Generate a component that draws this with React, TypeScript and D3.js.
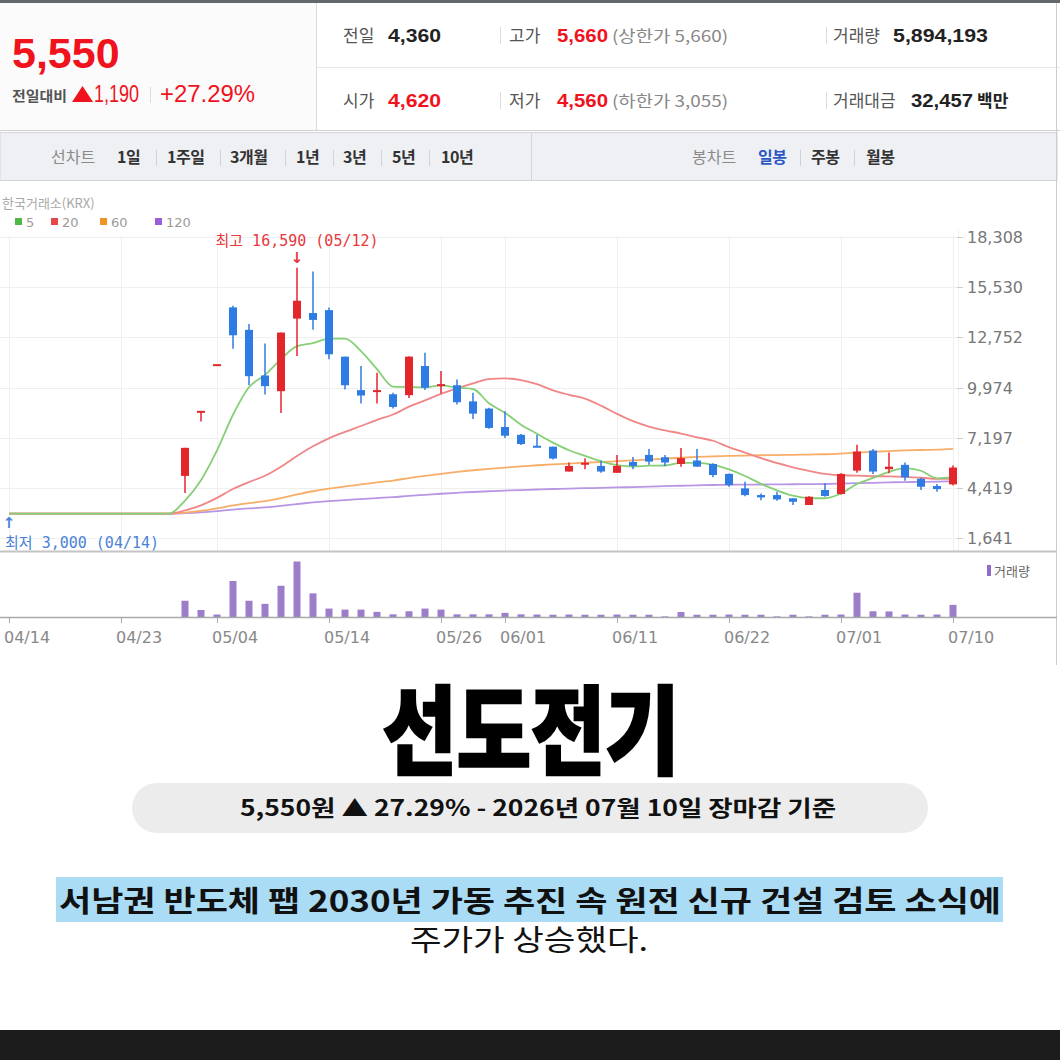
import React from 'react';
import * as d3 from 'd3';

const dates = ['04/14','04/15','04/16','04/17','04/20','04/21','04/22','04/23','04/24','04/27','04/28','04/29','04/30','05/04','05/06','05/07','05/08','05/11','05/12','05/13','05/14','05/15','05/18','05/19','05/20','05/21','05/22','05/26','05/27','05/28','05/29','06/01','06/02','06/04','06/05','06/08','06/09','06/10','06/11','06/12','06/15','06/16','06/17','06/18','06/19','06/22','06/23','06/24','06/25','06/26','06/29','06/30','07/01','07/02','07/03','07/06','07/07','07/08','07/09','07/10'];
const tickDates = ['04/14','04/23','05/04','05/14','05/26','06/01','06/11','06/22','07/01','07/10'];
const basePrice = 3000;
const opens = [3000,3000,3000,3000,3000,3000,3000,3000,3000,3000,3000,5090,8630,11210,14400,13160,10640,9770,13780,14090,14250,11680,9830,9750,9600,9550,11160,10080,10100,9210,8810,7790,7360,6720,6700,5330,5740,5640,5260,5860,6250,6120,5750,5940,5750,5200,4400,4030,4030,3850,3480,4310,4090,5380,6490,5460,5700,4930,4530,4620];
const highs = [3000,3000,3000,3000,3000,3000,3000,3000,3000,3000,3000,6640,8630,11210,14490,13480,12400,13010,16590,16380,14400,11680,11160,10790,9680,11700,11900,10880,10420,9680,8850,8660,7400,7360,6720,5830,6070,5940,6250,6130,6570,6250,6630,6570,5790,5220,4770,4120,4220,3850,3960,4680,5230,6810,6570,6380,5830,4990,4640,5660];
const lows = [3000,3000,3000,3000,3000,3000,3000,3000,3000,3000,3000,4140,8100,11210,12120,10100,9590,8570,11710,13160,11530,9860,9090,9090,8820,9400,9830,9640,9030,8240,7700,7180,6800,6680,6000,5330,5460,5260,5260,5460,5700,5640,5590,5590,5010,4490,3970,3750,3710,3480,3480,3940,4060,5270,5200,5240,4820,4310,4220,4560];
const closes = [3000,3000,3000,3000,3000,3000,3000,3000,3000,3000,3000,6640,8630,11210,12860,10600,10050,13010,14770,13710,11810,10100,9530,9800,8900,11680,9960,10130,9160,8530,7740,7310,6850,6680,6050,5640,5780,5330,5640,5640,5880,5830,6070,5600,5140,4590,4030,3900,3790,3660,3940,3980,5200,6440,5330,5600,5010,4490,4360,5550];
// volume in millions of shares
const volumes = [0,0,0,0,0,0,0,0,0,0,0,7.9,3.4,1.2,17.5,7.9,6.4,15.2,27.0,11.5,4.1,3.6,3.6,2.5,1.3,2.8,4.1,3.6,1.3,1.3,1.3,2.0,1.3,1.2,1.1,1.2,1.1,1.1,1.2,1.1,1.1,0.3,2.4,1.1,1.1,1.2,1.1,1.1,0.3,1.1,0.3,1.1,1.2,11.8,2.8,2.7,1.2,1.1,1.2,5.89];
const priceTicks = [1641, 4419, 7197, 9974, 12752, 15530, 18308];
const maPeriods = [5, 20, 60, 120];
const maColors = ['#86cf76', '#f08686', '#f8ad68', '#b896e4'];
const legendColors = ['#4fb847', '#e54848', '#f39224', '#9a5fd6'];
const highLabel = '최고 16,590 (05/12)';
const highDate = '05/12';
const lowLabel = '최저 3,000 (04/14)';
const lowDate = '04/14';

const topLeftLabels = ['전일대비'];
const rowLabels1 = ['전일', '고가', '거래량'];
const rowValues1 = ['4,360', '5,660', '5,894,193'];
const rowLabels2 = ['시가', '저가', '거래대금'];
const rowValues2 = ['4,620', '4,560', '32,457'];
const lineTabs = ['1일', '1주일', '3개월', '1년', '3년', '5년', '10년'];
const candleTabs = ['일봉', '주봉', '월봉'];

const KR = "'Noto Sans CJK KR', 'Noto Sans', sans-serif";
const NUM = "'Liberation Sans', Arial, 'Noto Sans CJK KR', sans-serif";
const MONO = "'DejaVu Sans Mono', 'Noto Sans CJK KR', monospace";
const AX = "'DejaVu Sans', 'Noto Sans CJK KR', sans-serif";

const RED = '#e3262c';
const BLUE = '#2f7be4';
const HRED = '#f0121c';

export default function App() {
  const x = d3.scalePoint<string>().domain(dates).range([9, 953]);
  const y = d3.scaleLinear().domain([1641, 18308]).range([538.3, 236.7]);
  const yv = d3.scaleLinear().domain([0, d3.max(volumes) as number]).range([617, 561.5]);

  const maSeries = maPeriods.map((n) =>
    closes.map((_, i) => d3.sum(d3.range(i - n + 1, i + 1), (k) => (k >= 0 ? closes[k] : basePrice)) / n)
  );
  const line = d3
    .line<number>()
    .x((_, i) => x(dates[i]) as number)
    .y((v) => y(v))
    .curve(d3.curveMonotoneX);

  const tabX = [117, 167, 230, 296, 343, 392, 441];
  const tabSep = [156, 220, 285, 333, 381, 429];
  const cTabX = [758, 811, 866];
  const cTabSep = [800, 854];

  const hx = x(highDate) as number;
  const lx = x(lowDate) as number;

  return (
    <svg
      width={1060}
      height={1060}
      viewBox="0 0 1060 1060"
      style={{ position: 'absolute', left: 0, top: 0, background: '#fff' }}
    >
      <rect x={0} y={0} width={1060} height={1060} fill="#fff" />
      {/* header */}
      <rect x={0} y={0} width={1060} height={3} fill="#62686e" />
      <rect x={0} y={3} width={316} height={127} fill="#fbfbfb" />
      <line x1={316.5} y1={3} x2={316.5} y2={131} stroke="#dcdcdc" />
      <line x1={317} y1={67.5} x2={1060} y2={67.5} stroke="#e8e8e8" />
      <line x1={0} y1={130.5} x2={1060} y2={130.5} stroke="#d0d0d0" />

      <text x={12} y={68} fontFamily={NUM} fontWeight={700} fontSize={43} fill={HRED}>5,550</text>
      <text x={12} y={101} fontFamily={KR} fontWeight={700} fontSize={14} fill="#555" textLength={55} lengthAdjust="spacingAndGlyphs">{topLeftLabels[0]}</text>
      <polygon points="72,102 82.5,86 93,102" fill={HRED} />
      <text x={94} y={102} fontFamily={NUM} fontSize={23} fill={HRED} textLength={45} lengthAdjust="spacingAndGlyphs">1,190</text>
      <line x1={150.5} y1={87} x2={150.5} y2={103} stroke="#dddddd" />
      <text x={160} y={102} fontFamily={NUM} fontSize={23} fill={HRED} textLength={95} lengthAdjust="spacingAndGlyphs">+27.29%</text>

      {[0, 1].map((r) => {
        const by = r === 0 ? 42 : 107;
        const labels = r === 0 ? rowLabels1 : rowLabels2;
        const vals = r === 0 ? rowValues1 : rowValues2;
        return (
          <g key={r}>
            <text x={343} y={by} fontFamily={KR} fontSize={17} fill="#555">{labels[0]}</text>
            <text x={388} y={by} fontFamily={NUM} fontWeight={700} fontSize={19} fill={r === 0 ? '#222' : HRED} textLength={53} lengthAdjust="spacingAndGlyphs">{vals[0]}</text>
            <line x1={500.5} y1={by - 15} x2={500.5} y2={by + 2} stroke="#dddddd" />
            <text x={509} y={by} fontFamily={KR} fontSize={17} fill="#555">{labels[1]}</text>
            <text x={557} y={by} fontFamily={NUM} fontWeight={700} fontSize={19} fill={HRED} textLength={51} lengthAdjust="spacingAndGlyphs">{vals[1]}</text>
            <text x={612} y={by} fontFamily={KR} fontSize={16} fill="#888" textLength={116} lengthAdjust="spacingAndGlyphs">{r === 0 ? '(상한가 5,660)' : '(하한가 3,055)'}</text>
            <line x1={826.5} y1={by - 15} x2={826.5} y2={by + 2} stroke="#dddddd" />
            <text x={833} y={by} fontFamily={KR} fontSize={17} fill="#555">{labels[2]}</text>
            {r === 0 ? (
              <text x={893} y={by} fontFamily={NUM} fontWeight={700} fontSize={19} fill="#222" textLength={95} lengthAdjust="spacingAndGlyphs">{vals[2]}</text>
            ) : (
              <>
                <text x={911} y={by} fontFamily={NUM} fontWeight={700} fontSize={19} fill="#222" textLength={62} lengthAdjust="spacingAndGlyphs">{vals[2]}</text>
                <text x={977} y={by} fontFamily={KR} fontWeight={700} fontSize={17} fill="#222">백만</text>
              </>
            )}
          </g>
        );
      })}

      {/* tab bar */}
      <rect x={0} y={132.5} width={1057} height={48} fill="#eff0f4" stroke="#d3d5da" />
      <line x1={531.5} y1={133} x2={531.5} y2={180} stroke="#d3d5da" />
      <text x={51} y={163} fontFamily={KR} fontSize={16} fill="#8a8a8a">선차트</text>
      {lineTabs.map((t, i) => (
        <text key={t} x={tabX[i]} y={163} fontFamily={KR} fontWeight={700} fontSize={16} fill="#333" letterSpacing={-0.5}>{t}</text>
      ))}
      {tabSep.map((sx) => (
        <line key={sx} x1={sx + 0.5} y1={150} x2={sx + 0.5} y2={166} stroke="#cfd1d6" />
      ))}
      <text x={692} y={163} fontFamily={KR} fontSize={16} fill="#8a8a8a">봉차트</text>
      {candleTabs.map((t, i) => (
        <text key={t} x={cTabX[i]} y={163} fontFamily={KR} fontWeight={700} fontSize={16} fill={i === 0 ? '#2b57c4' : '#333'} letterSpacing={-0.5}>{t}</text>
      ))}
      {cTabSep.map((sx) => (
        <line key={sx} x1={sx + 0.5} y1={150} x2={sx + 0.5} y2={166} stroke="#cfd1d6" />
      ))}

      {/* chart frame */}
      <line x1={1056.5} y1={3} x2={1056.5} y2={665} stroke="#cccccc" />

      {/* legend */}
      <text x={2} y={208} fontFamily={KR} fontSize={13} fill="#a8a8a8">한국거래소(KRX)</text>
      {maPeriods.map((p, i) => {
        const lxs = [15, 51, 100, 155];
        return (
          <g key={p}>
            <rect x={lxs[i]} y={218} width={7} height={7} fill={legendColors[i]} />
            <text x={lxs[i] + 11} y={227} fontFamily={AX} fontSize={13} fill="#9a9a9a">{p}</text>
          </g>
        );
      })}

      {/* grid */}
      {priceTicks.map((t) => (
        <line key={t} x1={0} y1={Math.round(y(t)) + 0.5} x2={957} y2={Math.round(y(t)) + 0.5} stroke="#efefef" />
      ))}
      {tickDates.map((d) => (
        <line key={d} x1={(x(d) as number) + 0.5} y1={236} x2={(x(d) as number) + 0.5} y2={551} stroke="#efefef" />
      ))}
      <line x1={958.5} y1={230} x2={958.5} y2={551} stroke="#f2f2f2" />
      {priceTicks.map((t) => (
        <g key={'l' + t}>
          <line x1={957} y1={Math.round(y(t)) + 0.5} x2={963} y2={Math.round(y(t)) + 0.5} stroke="#cccccc" />
          <text x={967} y={y(t) + 6} fontFamily={AX} fontSize={16} fill="#777">{d3.format(',')(t)}</text>
        </g>
      ))}
      <line x1={0} y1={551.5} x2={1057} y2={551.5} stroke="#c4c4c4" strokeWidth={2} />

      {/* moving averages */}
      {maSeries
        .map((s, i) => ({ s, i }))
        .reverse()
        .map(({ s, i }) => (
          <path key={maPeriods[i]} d={line(s) as string} fill="none" stroke={maColors[i]} strokeWidth={1.8} />
        ))}

      {/* candles */}
      {dates.map((d, i) => {
        if (volumes[i] === 0) return null;
        const cx = x(d) as number;
        const up = closes[i] >= opens[i];
        const col = up ? RED : BLUE;
        const top = y(Math.max(opens[i], closes[i]));
        const bot = y(Math.min(opens[i], closes[i]));
        const h = Math.max(2, bot - top);
        return (
          <g key={d}>
            <line x1={cx} y1={y(highs[i])} x2={cx} y2={y(lows[i])} stroke={col} strokeWidth={1.5} />
            <rect x={cx - 4} y={h === 2 ? (top + bot) / 2 - 1 : top} width={8} height={h} fill={col} />
          </g>
        );
      })}

      {/* high / low annotations */}
      <text x={hx} y={246} textAnchor="middle" fontFamily={MONO} fontSize={15} fill="#e8383d">{highLabel}</text>
      <text x={hx} y={263} textAnchor="middle" fontFamily={AX} fontWeight={700} fontSize={15} fill="#e8383d">↓</text>
      <text x={lx} y={528} textAnchor="middle" fontFamily={AX} fontWeight={700} fontSize={15} fill="#4a82d8">↑</text>
      <text x={lx - 4} y={548} fontFamily={MONO} fontSize={15} fill="#4a82d8">{lowLabel}</text>

      {/* volume */}
      {dates.map((d, i) =>
        volumes[i] > 0 ? (
          <rect key={'v' + d} x={(x(d) as number) - 3.5} y={yv(volumes[i])} width={7} height={617 - yv(volumes[i])} fill="#9b7dc9" />
        ) : null
      )}
      <rect x={987} y={565} width={4} height={11} fill="#8f6cc6" />
      <text x={994} y={576} fontFamily={KR} fontSize={13} fill="#666">거래량</text>

      {/* x axis */}
      <line x1={0} y1={617.5} x2={1057} y2={617.5} stroke="#a9a9a9" strokeWidth={1.5} />
      {tickDates.map((d) => (
        <g key={'t' + d}>
          <line x1={(x(d) as number) + 0.5} y1={617} x2={(x(d) as number) + 0.5} y2={623} stroke="#a9a9a9" />
          <text x={(x(d) as number) - 5} y={643} fontFamily={AX} fontSize={16} fill="#888">{d}</text>
        </g>
      ))}

      {/* title block */}
      <text x={531} y={766} textAnchor="middle" fontFamily={KR} fontWeight={900} fontSize={96} fill="#000" stroke="#000" strokeWidth={2.5} textLength={297} lengthAdjust="spacingAndGlyphs">선도전기</text>
      <rect x={132} y={783} width={796} height={50} rx={25} fill="#ececec" />
      <text x={538} y={816} textAnchor="middle" fontFamily={KR} fontWeight={700} fontSize={22} fill="#111" textLength={596} lengthAdjust="spacingAndGlyphs">5,550원 ▲ 27.29% - 2026년 07월 10일 장마감 기준</text>
      <rect x={56} y={877} width={947} height={45} fill="#abdcf6" />
      <text x={530} y={912} textAnchor="middle" fontFamily={KR} fontWeight={700} fontSize={29} fill="#111" textLength={942} lengthAdjust="spacingAndGlyphs">서남권 반도체 팹 2030년 가동 추진 속 원전 신규 건설 검토 소식에</text>
      <text x={529} y={951} textAnchor="middle" fontFamily={KR} fontSize={29} fill="#111" textLength={238} lengthAdjust="spacingAndGlyphs">주가가 상승했다.</text>
      <rect x={0} y={1030} width={1060} height={30} fill="#1c1c1c" />
    </svg>
  );
}
